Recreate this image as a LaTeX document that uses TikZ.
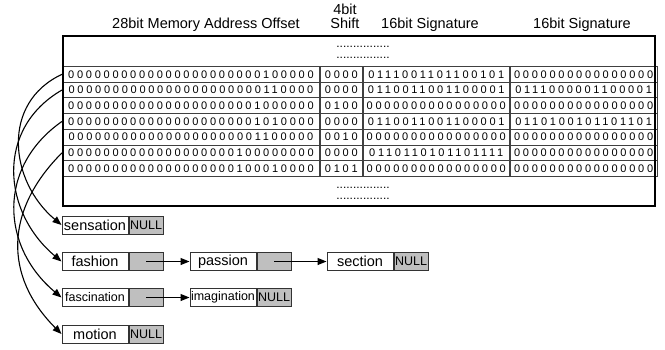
\documentclass[tikz,border=0pt]{standalone}
\usepackage{fontspec}
\setmainfont{Liberation Sans}
\newfontfamily\bitfont[LetterSpace=25]{Liberation Sans}
\usetikzlibrary{arrows.meta,positioning}

\tikzset{
  head/.style={anchor=base, inner sep=0pt, font=\fontsize{14.5}{14}\selectfont},
  dots/.style={inner sep=0pt, font=\fontsize{12}{12}\selectfont},
  cell/.style={draw=black!75, line width=0.9pt, anchor=north west, inner sep=0pt,
    minimum height=15.7pt, font=\bitfont\fontsize{11}{11}\selectfont},
  frame/.style={draw, line width=1.5pt, anchor=north west, inner sep=0pt},
  word/.style={draw=black!80, line width=1pt, fill=white, inner sep=0pt,
    minimum width=66pt, minimum height=18pt, font=\fontsize{14.5}{14}\selectfont},
  nil/.style={draw=black!80, line width=1pt, fill=gray!50, inner sep=0pt,
    minimum width=34pt, minimum height=18pt, font=\fontsize{12.5}{12}\selectfont},
  link/.style={-{Triangle[length=9pt,width=7pt]}, line width=1.1pt},
}

\begin{document}
\begin{tikzpicture}[x=1pt,y=-1pt]
  \useasboundingbox (0,0) rectangle (665,349);

  % column titles
  \node[head] (hAddr) at (206,28) {28bit Memory Address Offset};
  \node[head] (hBits) at (345,14) {4bit};
  \node[head] (hShift) at (345,28) {Shift};
  \node[head] (hSigA) at (430,28) {16bit Signature};
  \node[head] (hSigB) at (582,28) {16bit Signature};

  % hash table rows
  \foreach \i/\ad/\sh/\sa/\sb in {
      1/0000000000000000000000100000/0000/0111001101100101/0000000000000000,
      2/0000000000000000000000110000/0000/0110011001100001/0111000001100001,
      3/0000000000000000000001000000/0100/0000000000000000/0000000000000000,
      4/0000000000000000000001010000/0000/0110011001100001/0110100101101101,
      5/0000000000000000000001100000/0010/0000000000000000/0000000000000000,
      6/0000000000000000000100000000/0000/0110110101101111/0000000000000000,
      7/0000000000000000000100010000/0101/0000000000000000/0000000000000000}
  {
    \pgfmathsetmacro\yt{66+15.7*(\i-1)}
    \node[cell, minimum width=257pt] (a\i) at (62,\yt) {\ad};
    \node[cell, minimum width=42pt, right=0pt of a\i] (s\i) {\sh};
    \node[cell, minimum width=146pt, right=0pt of s\i] (g\i) {\sa};
    \node[cell, minimum width=147pt, right=0pt of g\i] (h\i) {\sb};
  }
  \node[frame, minimum width=592pt, minimum height=170pt] (tbl) at (62,35) {};

  \node[dots] (dA1) at (363,47) {................};
  \node[dots] (dA2) at (363,58) {................};
  \node[dots] (dB1) at (363,188) {................};
  \node[dots] (dB2) at (363,199) {................};

  % word lists
  \node[word] (w1) at (95,225) {sensation};
  \node[nil, right=0pt of w1] (p1) {NULL};
  \node[word] (w2) at (95,261.5) {fashion};
  \node[nil, right=0pt of w2] (p2) {};
  \node[word] (w3) at (223,261.5) {passion};
  \node[nil, right=0pt of w3] (p3) {};
  \node[word] (w4) at (360,261.5) {section};
  \node[nil, right=0pt of w4] (p4) {NULL};
  \node[word, font=\fontsize{12.5}{12}\selectfont] (w5) at (95,297.5) {fascination};
  \node[nil, right=0pt of w5] (p5) {};
  \node[word, font=\fontsize{12.5}{12}\selectfont] (w6) at (223,297.5) {imagination};
  \node[nil, right=0pt of w6] (p6) {NULL};
  \node[word] (w7) at (95,334) {motion};
  \node[nil, right=0pt of w7] (p7) {NULL};

  \draw[link] (p2.center) -- (w3.west);
  \draw[link] (p3.center) -- (w4.west);
  \draw[link] (p5.center) -- (w6.west);

  % buckets to lists
  \draw[link] (a1.west) to[out=205,in=140,looseness=1.15] (w1.west);
  \draw[link] (a2.west) to[out=210,in=140,looseness=1.15] (w2.west);
  \draw[link] (a4.west) to[out=215,in=140,looseness=1.15] (w5.west);
  \draw[link] (a6.west) to[out=225,in=135,looseness=1.15] (w7.west);
\end{tikzpicture}
\end{document}
